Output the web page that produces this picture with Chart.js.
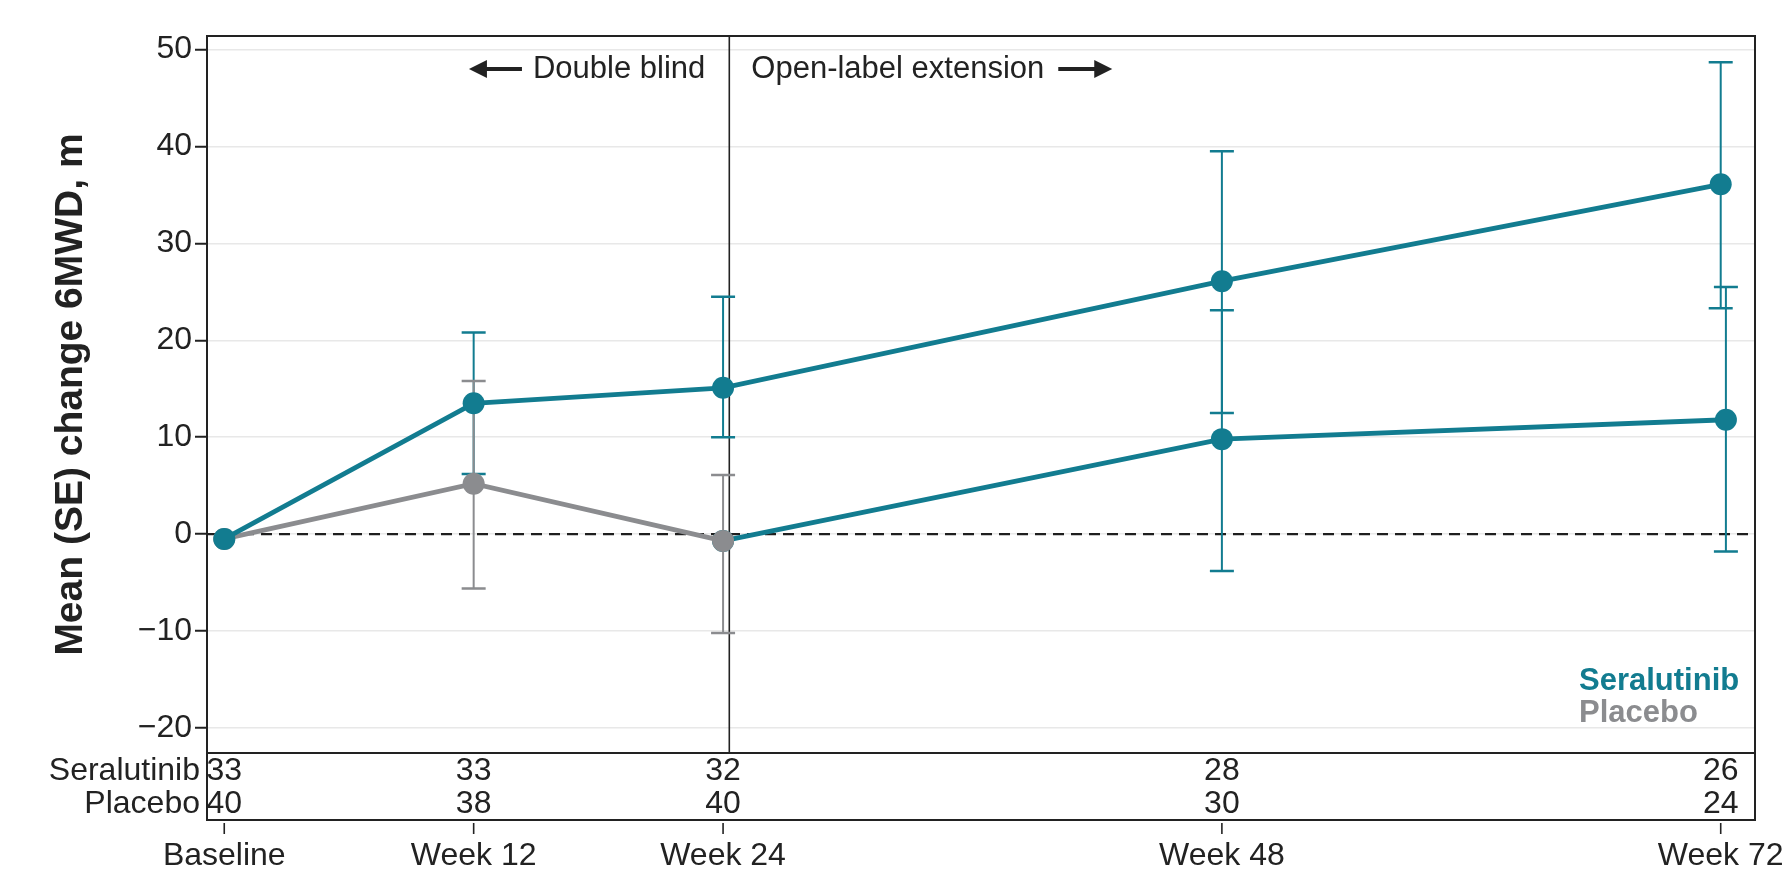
<!DOCTYPE html>
<html>
<head>
<meta charset="utf-8">
<script src="https://cdn.jsdelivr.net/npm/chart.js@4.4.1/dist/chart.umd.min.js"></script>
<style>
  html, body { margin: 0; padding: 0; background: #fff; }
  #wrap { width: 1790px; height: 869px; }
</style>
</head>
<body>
<div id="wrap"><canvas id="chart"></canvas></div>
<script>
// x positions (weeks) and their tick labels
const weeks = [0, 12, 24, 48, 72];
const weekLabels = ['Baseline', 'Week 12', 'Week 24', 'Week 48', 'Week 72'];
const yTicks = [-20, -10, 0, 10, 20, 30, 40, 50];

// seralutinib arm, mean and SE bar ends
const seralutinibMean = [-0.5, 13.5, 15.1, 26.1, 36.1];
const seralutinibLow = [null, 6.2, 10.0, 12.5, 23.3];
const seralutinibHigh = [null, 20.8, 24.5, 39.5, 48.7];

// placebo arm (double blind part only)
const placeboWeeks = [0, 12, 24];
const placeboMean = [-0.5, 5.2, -0.7];
const placeboLow = [null, -5.6, -10.2];
const placeboHigh = [null, 15.8, 6.1];

// placebo patients moved to seralutinib in the open-label extension
const crossoverWeeks = [24, 48, 72.25];
const crossoverMean = [-0.7, 9.8, 11.8];
const crossoverLow = [null, -3.8, -1.8];
const crossoverHigh = [null, 23.1, 25.5];

// numbers at each visit
const tableRows = ['Seralutinib', 'Placebo'];
const nSeralutinib = [33, 33, 32, 28, 26];
const nPlacebo = [40, 38, 40, 30, 24];

const dividerWeek = 24.3;
const TEAL = '#127c90';
const GREY = '#8b8c8f';
const INK = '#222222';
const TABLE_H = 67;

Chart.defaults.font.family = "'Liberation Sans', Arial, sans-serif";
Chart.defaults.color = INK;

function pts(xs, ys) {
    return xs.map((x, i) => ({ x: x, y: ys[i] }));
}

function errorBars(ctx, x, y, xs, lows, highs, color) {
    ctx.strokeStyle = color;
    xs.forEach((w, i) => {
        if (lows[i] === null) return;
        const px = x.getPixelForValue(w);
        const lo = y.getPixelForValue(lows[i]);
        const hi = y.getPixelForValue(highs[i]);
        ctx.lineWidth = 2;
        ctx.beginPath();
        ctx.moveTo(px, lo); ctx.lineTo(px, hi);
        ctx.stroke();
        ctx.lineWidth = 2.5;
        ctx.beginPath();
        ctx.moveTo(px - 12, lo); ctx.lineTo(px + 12, lo);
        ctx.moveTo(px - 12, hi); ctx.lineTo(px + 12, hi);
        ctx.stroke();
    });
}

function arrow(ctx, x0, x1, yy) {
    // shaft from x0 to x1, head at x1
    const dir = x1 > x0 ? 1 : -1;
    ctx.beginPath();
    ctx.moveTo(x0, yy); ctx.lineTo(x1 - dir * 14, yy);
    ctx.stroke();
    ctx.beginPath();
    ctx.moveTo(x1, yy);
    ctx.lineTo(x1 - dir * 18, yy - 9);
    ctx.lineTo(x1 - dir * 18, yy + 9);
    ctx.closePath();
    ctx.fill();
}

const decor = {
    id: 'decor',
    beforeDatasetsDraw(chart) {
        const { ctx, chartArea: a, scales: { x, y } } = chart;
        const tableTop = a.bottom - TABLE_H;
        ctx.save();
        // zero reference line
        ctx.strokeStyle = '#1e1e1e';
        ctx.lineWidth = 2.2;
        ctx.setLineDash([11, 7]);
        ctx.beginPath();
        ctx.moveTo(a.left, y.getPixelForValue(0));
        ctx.lineTo(a.right, y.getPixelForValue(0));
        ctx.stroke();
        ctx.setLineDash([]);
        // double blind / open label divider
        const dx = x.getPixelForValue(dividerWeek);
        ctx.strokeStyle = INK;
        ctx.lineWidth = 1.6;
        ctx.beginPath();
        ctx.moveTo(dx, a.top); ctx.lineTo(dx, tableTop);
        ctx.stroke();
        errorBars(ctx, x, y, crossoverWeeks, crossoverLow, crossoverHigh, TEAL);
        errorBars(ctx, x, y, weeks, seralutinibLow, seralutinibHigh, TEAL);
        errorBars(ctx, x, y, placeboWeeks, placeboLow, placeboHigh, GREY);
        ctx.restore();
    },
    afterDraw(chart) {
        const { ctx, chartArea: a, scales: { x, y } } = chart;
        const tableTop = a.bottom - TABLE_H;
        const fam = Chart.defaults.font.family;
        ctx.save();
        // frame + table separator
        ctx.strokeStyle = INK;
        ctx.lineWidth = 2;
        ctx.strokeRect(a.left, a.top, a.right - a.left, a.bottom - a.top);
        ctx.beginPath();
        ctx.moveTo(a.left, tableTop); ctx.lineTo(a.right, tableTop);
        ctx.stroke();

        // x tick marks, detached from the frame
        ctx.lineWidth = 1.6;
        weeks.forEach(w => {
            const px = x.getPixelForValue(w);
            ctx.beginPath();
            ctx.moveTo(px, a.bottom + 3); ctx.lineTo(px, a.bottom + 14);
            ctx.stroke();
        });

        // numbers table
        ctx.fillStyle = INK;
        ctx.font = '32px ' + fam;
        ctx.textBaseline = 'middle';
        const rowY = [tableTop + 18, tableTop + 51];
        ctx.textAlign = 'right';
        tableRows.forEach((r, i) => ctx.fillText(r, a.left - 7, rowY[i]));
        ctx.textAlign = 'center';
        weeks.forEach((w, i) => {
            const px = x.getPixelForValue(w);
            ctx.fillText(String(nSeralutinib[i]), px, rowY[0]);
            ctx.fillText(String(nPlacebo[i]), px, rowY[1]);
        });

        // period annotations
        const dx = x.getPixelForValue(dividerWeek);
        const ay = a.top + 33;
        ctx.font = '31px ' + fam;
        ctx.lineWidth = 4;
        ctx.strokeStyle = INK;
        ctx.textAlign = 'right';
        const left = 'Double blind';
        ctx.fillText(left, dx - 24, ay);
        const lw = ctx.measureText(left).width;
        arrow(ctx, dx - 24 - lw - 11, dx - 24 - lw - 64, ay);
        ctx.textAlign = 'left';
        const right = 'Open-label extension';
        ctx.fillText(right, dx + 22, ay);
        const rw = ctx.measureText(right).width;
        arrow(ctx, dx + 22 + rw + 14, dx + 22 + rw + 68, ay);

        // legend text
        ctx.font = 'bold 31px ' + fam;
        ctx.textAlign = 'left';
        ctx.fillStyle = TEAL;
        ctx.fillText(chart.data.datasets[0].label, a.right - 176, tableTop - 72);
        ctx.fillStyle = GREY;
        ctx.fillText(chart.data.datasets[1].label, a.right - 176, tableTop - 40);

        // y axis title, centred on the plot part only
        ctx.fillStyle = INK;
        ctx.font = 'bold 39px ' + fam;
        ctx.textAlign = 'center';
        ctx.translate(71, (a.top + tableTop) / 2);
        ctx.rotate(-Math.PI / 2);
        ctx.fillText('Mean (SE) change 6MWD, m', 0, 0);
        ctx.restore();
    }
};

const ctx = document.getElementById('chart').getContext('2d');

const chart = new Chart(ctx, {
    type: 'line',
    data: {
        datasets: [{
            label: 'Seralutinib',
            data: pts(weeks, seralutinibMean),
            borderColor: TEAL,
            backgroundColor: TEAL,
            order: 0
        }, {
            label: 'Placebo',
            data: pts(placeboWeeks, placeboMean),
            borderColor: GREY,
            backgroundColor: GREY,
            order: 1
        }, {
            label: 'Placebo to seralutinib',
            data: pts(crossoverWeeks, crossoverMean),
            borderColor: TEAL,
            backgroundColor: TEAL,
            order: 2
        }]
    },
    options: {
        responsive: true,
        maintainAspectRatio: false,
        animation: false,
        layout: {
            padding: { top: 36, right: 35, left: 0, bottom: 0 }
        },
        elements: {
            line: { borderWidth: 4.8, tension: 0 },
            point: { radius: 11, borderWidth: 0, hoverRadius: 11 }
        },
        plugins: {
            legend: { display: false },
            tooltip: { enabled: false }
        },
        scales: {
            x: {
                type: 'linear',
                min: -0.83,
                max: 73.65,
                afterBuildTicks: s => { s.ticks = weeks.map(v => ({ value: v })); },
                afterFit: s => {
                    s.height = 49;
                    s.paddingLeft = 0;
                    s.paddingRight = 0;
                },
                ticks: {
                    autoSkip: false,
                    maxRotation: 0,
                    padding: 9,
                    color: INK,
                    font: { size: 32 },
                    callback: v => weekLabels[weeks.indexOf(v)]
                },
                grid: { display: false },
                border: { display: false }
            },
            y: {
                min: -29.5,
                max: 51.4,
                afterBuildTicks: s => { s.ticks = yTicks.map(v => ({ value: v })); },
                afterFit: s => { s.width = 207; },
                ticks: {
                    padding: 3,
                    color: INK,
                    font: { size: 32 },
                    callback: v => v < 0 ? '\u2212' + Math.abs(v) : String(v)
                },
                grid: {
                    color: '#e8e8e8',
                    lineWidth: 1.5,
                    tickColor: INK,
                    tickLength: 12,
                    tickWidth: 2
                },
                border: { display: false }
            }
        }
    },
    plugins: [decor]
});
</script>
</body>
</html>
